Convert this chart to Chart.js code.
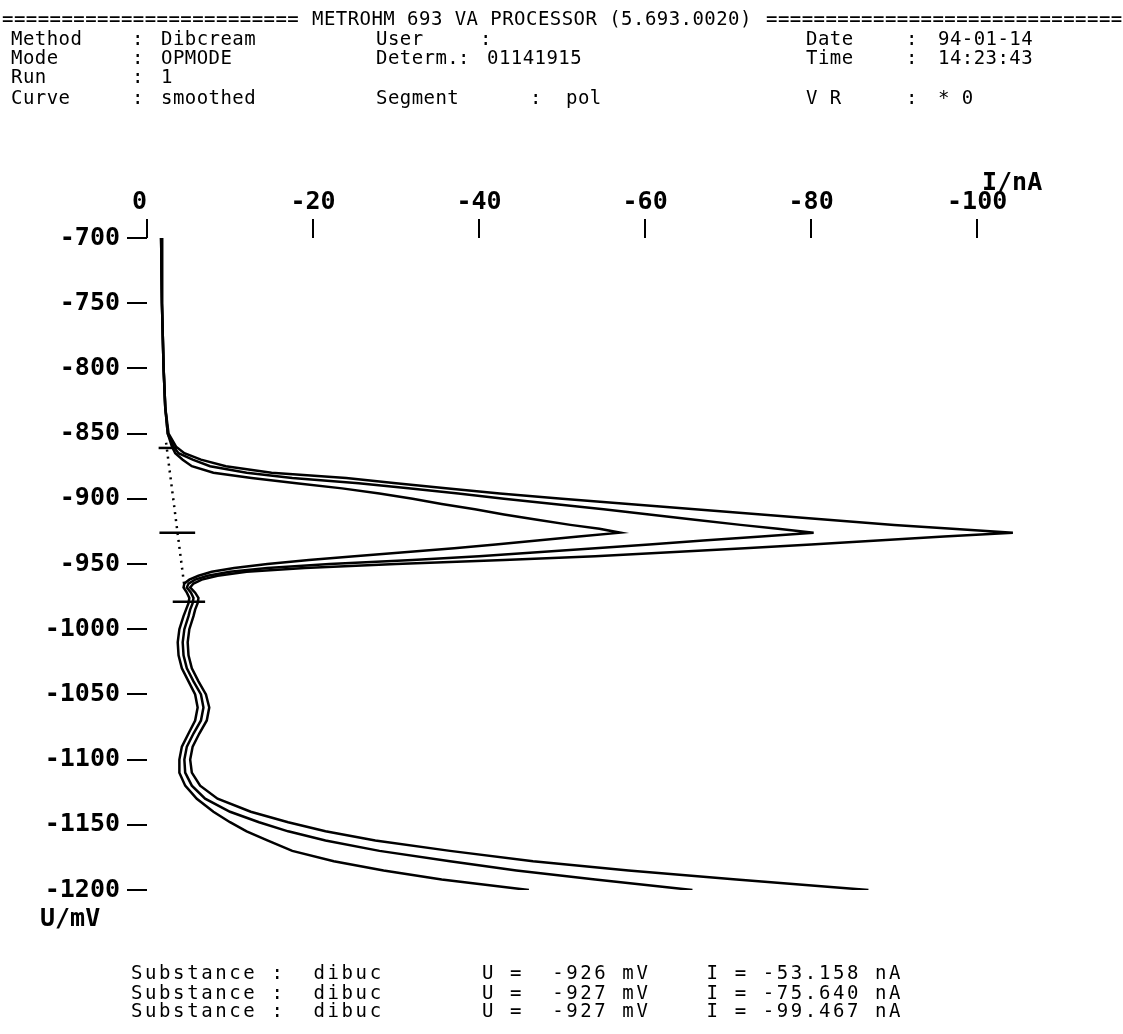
<!DOCTYPE html>
<html>
<head>
<meta charset="utf-8">
<title>METROHM 693 VA PROCESSOR</title>
<script src="https://cdn.jsdelivr.net/npm/chart.js@4.4.1/dist/chart.umd.min.js"></script>
<style>
    html, body { margin: 0; padding: 0; background: #fff; }
    #page { position: relative; width: 1123px; height: 1034px; overflow: hidden; }
    #chart { position: absolute; left: 0; top: 0; }
    .t {
        position: absolute;
        white-space: pre;
        color: #000;
        font-family: "DejaVu Sans Mono", monospace;
        line-height: 20px;
        height: 20px;
    }
    .head { font-size: 19px; letter-spacing: 0.45px; }
    .foot { font-size: 19px; letter-spacing: 2.6px; }
    .unit { font-size: 25px; font-weight: bold; line-height: 26px; height: 26px; }
</style>
</head>
<body>
<div id="page">
    <canvas id="chart" width="1123" height="1034"></canvas>

    <div class="t head" style="left:2px;top:8px">=========================</div>
    <div class="t head" style="left:312px;top:8px">METROHM 693 VA PROCESSOR (5.693.0020)</div>
    <div class="t head" style="left:766px;top:8px">==============================</div>

    <div class="t head" style="left:11px;top:28px">Method</div>
    <div class="t head" style="left:132px;top:28px">:</div>
    <div class="t head" style="left:161px;top:28px">Dibcream</div>
    <div class="t head" style="left:376px;top:28px">User</div>
    <div class="t head" style="left:480px;top:28px">:</div>
    <div class="t head" style="left:806px;top:28px">Date</div>
    <div class="t head" style="left:906px;top:28px">:</div>
    <div class="t head" style="left:938px;top:28px">94-01-14</div>

    <div class="t head" style="left:11px;top:47px">Mode</div>
    <div class="t head" style="left:132px;top:47px">:</div>
    <div class="t head" style="left:161px;top:47px">OPMODE</div>
    <div class="t head" style="left:376px;top:47px">Determ.</div>
    <div class="t head" style="left:458px;top:47px">:</div>
    <div class="t head" style="left:487px;top:47px">01141915</div>
    <div class="t head" style="left:806px;top:47px">Time</div>
    <div class="t head" style="left:906px;top:47px">:</div>
    <div class="t head" style="left:938px;top:47px">14:23:43</div>

    <div class="t head" style="left:11px;top:66px">Run</div>
    <div class="t head" style="left:132px;top:66px">:</div>
    <div class="t head" style="left:161px;top:66px">1</div>

    <div class="t head" style="left:11px;top:87px">Curve</div>
    <div class="t head" style="left:132px;top:87px">:</div>
    <div class="t head" style="left:161px;top:87px">smoothed</div>
    <div class="t head" style="left:376px;top:87px">Segment</div>
    <div class="t head" style="left:530px;top:87px">:</div>
    <div class="t head" style="left:566px;top:87px">pol</div>
    <div class="t head" style="left:806px;top:87px">V R</div>
    <div class="t head" style="left:906px;top:87px">:</div>
    <div class="t head" style="left:938px;top:87px">* 0</div>

    <div class="t unit" style="left:982px;top:169px">I/nA</div>
    <div class="t unit" style="left:40px;top:905px">U/mV</div>

    <div class="t foot" style="left:131px;top:962px">Substance :  dibuc       U =  -926 mV    I = -53.158 nA</div>
    <div class="t foot" style="left:131px;top:982px">Substance :  dibuc       U =  -927 mV    I = -75.640 nA</div>
    <div class="t foot" style="left:131px;top:1000px">Substance :  dibuc       U =  -927 mV    I = -99.467 nA</div>
</div>

<script>
// Potential grid (mV) shared by the three scans
const potential = [-700, -750, -800, -830, -850, -860, -865, -870, -875, -880,
    -884, -888, -892, -896, -900, -904, -908, -912, -916, -920,
    -923, -926, -929, -932, -935, -938, -941, -944, -947, -950,
    -953, -956, -959, -962, -965, -968, -972, -976, -980, -985,
    -990, -1000, -1010, -1020, -1030, -1040, -1050, -1060, -1070, -1080,
    -1090, -1100, -1110, -1120, -1130, -1140, -1148, -1155, -1162, -1170,
    -1178, -1185, -1192, -1200];

// Current (nA) of each scan
const currentSmall = [-1.7, -1.8, -2.0, -2.2, -2.5, -3.0, -3.4, -4.3, -5.4, -8.0,
    -12.6, -18.0, -23.5, -28.0, -32.0, -35.5, -39.5, -43.0, -47.0, -51.0,
    -54.5, -57.0, -52.0, -47.0, -42.0, -37.0, -31.0, -25.0, -19.5, -14.5,
    -10.5, -7.8, -6.2, -5.1, -4.5, -4.4, -4.8, -5.1, -5.0, -4.7,
    -4.4, -3.9, -3.7, -3.8, -4.2, -5.0, -5.8, -6.1, -5.8, -5.0,
    -4.2, -3.9, -3.9, -4.6, -6.0, -8.0, -10.0, -12.0, -14.5, -17.5,
    -22.5, -28.5, -35.5, -46.0];

const currentMiddle = [-1.7, -1.8, -2.0, -2.2, -2.5, -3.2, -3.8, -5.5, -7.6, -12.0,
    -17.5, -25.5, -31.5, -37.5, -43.0, -49.0, -55.0, -60.5, -66.0, -71.5,
    -76.0, -80.3, -74.0, -67.0, -60.5, -54.0, -47.0, -40.0, -32.0, -22.0,
    -14.5, -10.0, -7.3, -5.8, -5.0, -4.8, -5.3, -5.6, -5.5, -5.2,
    -5.0, -4.5, -4.3, -4.4, -4.8, -5.6, -6.5, -6.8, -6.5, -5.6,
    -4.8, -4.5, -4.6, -5.4, -7.0, -10.0, -13.5, -17.0, -21.5, -28.0,
    -36.5, -44.5, -54.0, -65.7];

const currentLarge = [-1.7, -1.8, -2.0, -2.2, -2.6, -3.5, -4.5, -6.5, -9.5, -15.0,
    -24.0, -30.0, -36.0, -42.5, -50.0, -58.0, -66.0, -74.0, -82.0, -90.0,
    -97.0, -104.3, -96.0, -88.0, -80.0, -72.0, -63.0, -54.0, -43.0, -30.0,
    -19.0, -12.0, -8.5, -6.6, -5.6, -5.2, -5.8, -6.2, -6.1, -5.8,
    -5.6, -5.1, -4.9, -5.0, -5.4, -6.2, -7.1, -7.5, -7.2, -6.3,
    -5.5, -5.2, -5.4, -6.4, -8.5, -12.5, -17.0, -21.5, -27.5, -36.5,
    -46.5, -58.0, -71.0, -86.9];

// Baseline (dotted) and the short evaluation marks
const baselinePotential = [-857, -967];
const baselineCurrent = [-2.3, -4.5];
const markPotential = [-861, -926, -979];
const markCurrentFrom = [-1.4, -1.5, -3.1];
const markCurrentTo = [-3.6, -5.8, -7.0];

// Axis ticks
const currentTicks = [0, -20, -40, -60, -80, -100];
const potentialTicks = [-700, -750, -800, -850, -900, -950, -1000, -1050, -1100, -1150, -1200];

(function () {
    'use strict';

    function toPoints(xs, ys) {
        return xs.map(function (x, i) {
            return { x: x, y: ys[i] };
        });
    }

    function lineDataset(points, dash) {
        return {
            data: points,
            showLine: true,
            borderColor: '#000',
            borderWidth: 2.5,
            borderDash: dash || [],
            pointRadius: 0,
            tension: 0,
            fill: false
        };
    }

    const datasets = [
        lineDataset(toPoints(currentSmall, potential)),
        lineDataset(toPoints(currentMiddle, potential)),
        lineDataset(toPoints(currentLarge, potential)),
        lineDataset(toPoints(baselineCurrent, baselinePotential), [2, 5])
    ];

    markPotential.forEach(function (u, i) {
        datasets.push(lineDataset([{ x: markCurrentFrom[i], y: u }, { x: markCurrentTo[i], y: u }]));
    });

    const tickFont = { family: 'DejaVu Sans Mono', weight: 'bold', size: 25 };

    new Chart(document.getElementById('chart'), {
        type: 'scatter',
        data: { datasets: datasets },
        options: {
            responsive: false,
            animation: false,
            layout: { padding: { left: 0, top: 0, right: 13, bottom: 144 } },
            plugins: {
                legend: { display: false },
                tooltip: { enabled: false }
            },
            scales: {
                x: {
                    type: 'linear',
                    position: 'top',
                    min: -116,
                    max: 0,
                    reverse: true,
                    afterFit: function (scale) { scale.height = 238; },
                    afterBuildTicks: function (scale) {
                        scale.ticks = currentTicks.map(function (v) { return { value: v }; });
                    },
                    border: { display: false },
                    grid: {
                        drawOnChartArea: false,
                        drawTicks: true,
                        tickLength: 19,
                        color: '#000',
                        lineWidth: 2
                    },
                    ticks: {
                        font: tickFont,
                        color: '#000',
                        padding: 2,
                        maxRotation: 0,
                        autoSkip: false,
                        // the printout sets the "0" a little left of its tick
                        callback: function (v) { return v === 0 ? '0 ' : String(v); }
                    }
                },
                y: {
                    type: 'linear',
                    min: -1200,
                    max: -700,
                    afterFit: function (scale) { scale.width = 147; },
                    afterBuildTicks: function (scale) {
                        scale.ticks = potentialTicks.map(function (v) { return { value: v }; });
                    },
                    border: { display: false },
                    grid: {
                        drawOnChartArea: false,
                        drawTicks: true,
                        tickLength: 20,
                        color: '#000',
                        lineWidth: 2
                    },
                    ticks: {
                        font: tickFont,
                        color: '#000',
                        padding: 7,
                        autoSkip: false,
                        callback: function (v) { return String(v); }
                    }
                }
            }
        }
    });
})();
</script>
</body>
</html>
